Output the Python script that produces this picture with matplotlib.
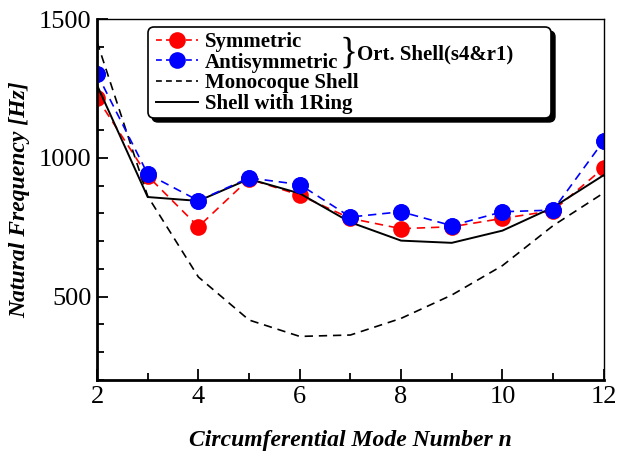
import matplotlib.pyplot as plt
from matplotlib.patches import FancyBboxPatch
from matplotlib.lines import Line2D
from matplotlib.ticker import MultipleLocator

plt.rcParams['font.family'] = ['Liberation Serif', 'DejaVu Serif']

# circumferential mode numbers and natural frequencies [Hz]
n_mode = [2, 3, 4, 5, 6, 7, 8, 9, 10, 11, 12]
sym_freq = [1216, 935, 752, 924, 866, 782, 745, 752, 782, 810, 964]
anti_freq = [1303, 942, 846, 928, 904, 787, 806, 756, 806, 812, 1062]
mono_freq = [1418, 862, 571, 416, 357, 362, 422, 506, 612, 756, 874]
ring_freq = [1262, 859, 845, 924, 872, 768, 702, 694, 738, 822, 938]

fig = plt.figure(figsize=(6.18, 4.54), dpi=100)
ax = fig.add_axes([0.157, 0.163, 0.820, 0.795])

ax.plot(n_mode, mono_freq, color='black', ls=(0, (5, 3.5)), lw=1.2)
ax.plot(n_mode, ring_freq, color='black', ls='-', lw=1.4)
ax.plot(n_mode, anti_freq, color='blue', ls=(0, (5, 3.5)), lw=1.2,
        marker='o', ms=12, mec='none')
ax.plot(n_mode, sym_freq, color='red', ls=(0, (5, 3.5)), lw=1.2,
        marker='o', ms=12, mec='none', zorder=1.9)
# redraw blue points where they overlap
ax.plot(n_mode, anti_freq, ls='none', marker='o', ms=12, color='blue', mec='none')

ax.set_xlim(2, 12)
ax.set_ylim(200, 1500)
ax.xaxis.set_major_locator(MultipleLocator(2))
ax.xaxis.set_minor_locator(MultipleLocator(1))
ax.yaxis.set_major_locator(MultipleLocator(500))
ax.yaxis.set_minor_locator(MultipleLocator(100))
ax.tick_params(which='both', direction='in', top=False, right=False,
               labelsize=19, width=1.3, pad=4)
ax.tick_params(which='major', length=8)
ax.tick_params(which='minor', length=5)
ax.set_yticks([500, 1000, 1500])

for side in ['left', 'bottom']:
    ax.spines[side].set_linewidth(2.0)
for side in ['top', 'right']:
    ax.spines[side].set_linewidth(1.0)

ax.set_xlabel('Circumferential Mode Number n', fontsize=17,
              fontweight='bold', style='italic', labelpad=16)
ax.set_ylabel('Natural Frequency [Hz]', fontsize=17,
              fontweight='bold', style='italic', labelpad=6)

# legend box with drop shadow
x0, y0, x1, y1 = 148, 454 - 118, 551, 454 - 27
shadow = FancyBboxPatch((x0 + 4, y0 - 4), x1 - x0, y1 - y0,
                        boxstyle='round,pad=0,rounding_size=6',
                        transform=None, fc='black', ec='black', zorder=5)
box = FancyBboxPatch((x0, y0), x1 - x0, y1 - y0,
                     boxstyle='round,pad=0,rounding_size=6',
                     transform=None, fc='white', ec='black', lw=1.2, zorder=6)
fig.add_artist(shadow)
fig.add_artist(box)

handles = [
    Line2D([], [], color='red', ls=(0, (3.5, 2.5)), lw=1.2, marker='o', ms=12, mec='none'),
    Line2D([], [], color='blue', ls=(0, (3.5, 2.5)), lw=1.2, marker='o', ms=12, mec='none'),
    Line2D([], [], color='black', ls=(0, (3.5, 2.5)), lw=1.2),
    Line2D([], [], color='black', ls='-', lw=1.4),
]
labels = ['Symmetric', 'Antisymmetric', 'Monocoque Shell', 'Shell with 1Ring']
leg = fig.legend(handles, labels, loc='upper left',
                 bbox_to_anchor=(156 / 618, 1 - 32 / 454),
                 frameon=False, prop={'weight': 'bold', 'size': 15},
                 handlelength=2.0, handletextpad=0.35, labelspacing=0.03,
                 borderaxespad=0, borderpad=0)
leg.set_zorder(7)

fig.text(340 / 618, 1 - 53 / 454, '}', fontsize=27,
         va='center', ha='left', zorder=8)
fig.text(357 / 618, 1 - 54 / 454, 'Ort. Shell(s4&r1)', fontsize=15,
         fontweight='bold', va='center', ha='left', zorder=8)

fig.savefig('out.png', dpi=100)
